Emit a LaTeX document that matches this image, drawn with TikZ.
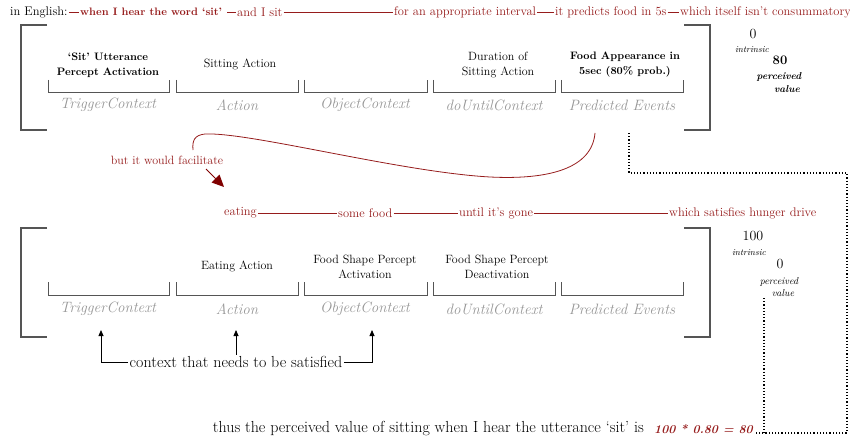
\documentclass[tikz,border=0pt]{standalone}
\usetikzlibrary{arrows.meta}
\definecolor{phrase}{RGB}{150,28,28}
\definecolor{tipred}{RGB}{128,0,0}
\definecolor{slotgray}{RGB}{150,150,150}
\definecolor{framegray}{RGB}{85,85,85}
\tikzset{
  phr/.style={text=phrase, inner sep=1pt, anchor=west, font=\fontsize{12.5}{14}\selectfont},
  phrline/.style={draw=phrase, line width=0.8pt},
  slotname/.style={text=slotgray, font=\itshape\fontsize{15}{17}\selectfont},
  content/.style={align=center, font=\fontsize{12}{15}\selectfont},
  bcontent/.style={align=center, font=\bfseries\fontsize{10.8}{15}\selectfont},
  frame/.style={draw=framegray, line width=1.1pt},
  slotline/.style={draw=framegray, line width=0.9pt},
  valnum/.style={font=\fontsize{14}{15}\selectfont},
  valtag/.style={font=\itshape\fontsize{9}{10}\selectfont},
  dotline/.style={draw=black, line width=1.2pt, dotted},
  ctxarrow/.style={draw=black, line width=0.8pt, -{Triangle[length=6pt,width=5pt]}},
}
\begin{document}
\begin{tikzpicture}[x=1pt,y=-1pt]
\useasboundingbox (0,0) rectangle (850,441);

% ---------- upper frame: sitting schema ----------
\node[anchor=west, inner sep=1pt, font=\fontsize{12.5}{14}\selectfont] (eng) at (9,12) {in English:};
\node[phr, font=\bfseries\fontsize{10.8}{14}\selectfont] (p1) at (79,12) {when I hear the word `sit'};
\node[phr] (p2) at (236,12) {and I sit};
\node[phr] (p3) at (393,12) {for an appropriate interval};
\node[phr] (p4) at (554,12) {it predicts food in 5s};
\node[phr] (p5) at (679,12) {which itself isn't consummatory};
\draw[phrline] (eng.east) -- (p1.west);
\draw[phrline] (p1.east) ++(4,0) coordinate (d1) -- (p2.west);
\draw[phrline] (p2.east) -- (p3.west);
\draw[phrline] (p3.east) -- (p4.west);
\draw[phrline] (p4.east) -- (p5.west);

\draw[frame] (47,25) -- (21,25) -- (21,130) -- (47,130);
\draw[frame] (684,25) -- (710,25) -- (710,130) -- (684,130);

\foreach \a/\b in {48/169, 176/298, 304/427, 433/555, 561/683}{
  \draw[slotline] (\a,80) -- (\a,92) -- (\b,92) -- (\b,80);
}
\node[slotname] (t1) at (108,105) {TriggerContext};
\node[slotname] (t2) at (237,105) {Action};
\node[slotname] (t3) at (365,105) {ObjectContext};
\node[slotname] (t4) at (494,105) {doUntilContext};
\node[slotname] (t5) at (622,105) {Predicted Events};

\node[bcontent] (c1) at (108,65) {`Sit' Utterance\\Percept Activation};
\node[content] (c2) at (240,64) {Sitting Action};
\node[content] (c4) at (498,65) {Duration of\\Sitting Action};
\node[bcontent] (c5) at (625,65) {Food Appearance in\\5sec (80\% prob.)};

\node[valnum] (i1) at (753,34) {0};
\node[valtag] (i1t) at (752,50) {intrinsic};
\node[valnum, font=\bfseries\fontsize{13}{15}\selectfont] (v1) at (780,60) {80};
\node[valtag, font=\bfseries\itshape\fontsize{10}{11}\selectfont] (v1t) at (779,77) {perceived};
\node[valtag, font=\bfseries\itshape\fontsize{10}{11}\selectfont] (v1v) at (787,89) {value};

% ---------- link between the two schemas ----------
\node[text=phrase, font=\fontsize{12}{14}\selectfont] (fac) at (167,160) {but it would facilitate};
\coordinate (curvestart) at (595,133);
\coordinate (curveend) at (193,150);
\draw[phrline] (curvestart) .. controls (592,168) and (550,180) .. (490,177)
  .. controls (400,172) and (250,132) .. (205,134)
  .. controls (195,135) and (192,140) .. (curveend);
\coordinate (arrowtail) at (206,169);
\coordinate (arrowhead) at (224,187);
\draw[draw=tipred, line width=0.9pt, -{Triangle[length=12pt,width=11pt]}, tipred] (arrowtail) -- (arrowhead);

% ---------- lower frame: eating schema ----------
\node[phr] (q1) at (223,213) {eating};
\node[phr] (q2) at (337,213) {some food};
\node[phr] (q3) at (458,213) {until it's gone};
\node[phr] (q4) at (668,213) {which satisfies hunger drive};
\draw[phrline] (q1.east) -- (q2.west);
\draw[phrline] (q2.east) -- (q3.west);
\draw[phrline] (q3.east) -- (q4.west);

\draw[frame] (47,228) -- (21,228) -- (21,337) -- (47,337);
\draw[frame] (684,228) -- (710,228) -- (710,337) -- (684,337);

\foreach \a/\b in {48/169, 176/298, 304/427, 433/555, 561/683}{
  \draw[slotline] (\a,282) -- (\a,295) -- (\b,295) -- (\b,282);
}
\node[slotname] (u1) at (108,309) {TriggerContext};
\node[slotname] (u2) at (237,309) {Action};
\node[slotname] (u3) at (365,309) {ObjectContext};
\node[slotname] (u4) at (494,309) {doUntilContext};
\node[slotname] (u5) at (622,309) {Predicted Events};

\node[content] (e2) at (237,266) {Eating Action};
\node[content] (e3) at (365,267) {Food Shape Percept\\Activation};
\node[content] (e4) at (497,267) {Food Shape Percept\\Deactivation};

\node[valnum] (i2) at (753,236) {100};
\node[valtag] (i2t) at (749,253) {intrinsic};
\node[valnum] (v2) at (780,264) {0};
\node[valtag, font=\itshape\fontsize{10}{11}\selectfont] (v2t) at (779,282) {perceived};
\node[valtag, font=\itshape\fontsize{10}{11}\selectfont] (v2v) at (783,293) {value};

% ---------- context that needs to be satisfied ----------
\node[font=\fontsize{16}{18}\selectfont, inner sep=1.5pt] (ctx) at (236,362) {context that needs to be satisfied};
\coordinate (a1) at (101,330);
\coordinate (a2) at (236,330);
\coordinate (a3) at (372,330);
\draw[ctxarrow] (ctx.west) -| (a1);
\draw[ctxarrow] (ctx.north) -- (a2);
\draw[ctxarrow] (ctx.east) -| (a3);

% ---------- conclusion ----------
\node[anchor=east, font=\fontsize{16}{18}\selectfont, inner sep=1pt] (thus) at (645,429) {thus the perceived value of sitting when I hear the utterance `sit' is};
\node[anchor=west, text=phrase, font=\bfseries\itshape\fontsize{12}{14}\selectfont, inner sep=1pt] (calc) at (653,429) {100 * 0.80 = 80};

% dotted value trace
\coordinate (dtop) at (629,133);
\coordinate (dcorner) at (629,173);
\coordinate (dright) at (847,173);
\coordinate (dbottom) at (847,433);
\coordinate (djoin) at (764,433);
\coordinate (dval) at (764,298);
\draw[dotline] (dtop) -- (dcorner) -- (dright) -- (dbottom) -- (calc.east |- dbottom);
\draw[dotline] (dval) -- (djoin);
\end{tikzpicture}
\end{document}
